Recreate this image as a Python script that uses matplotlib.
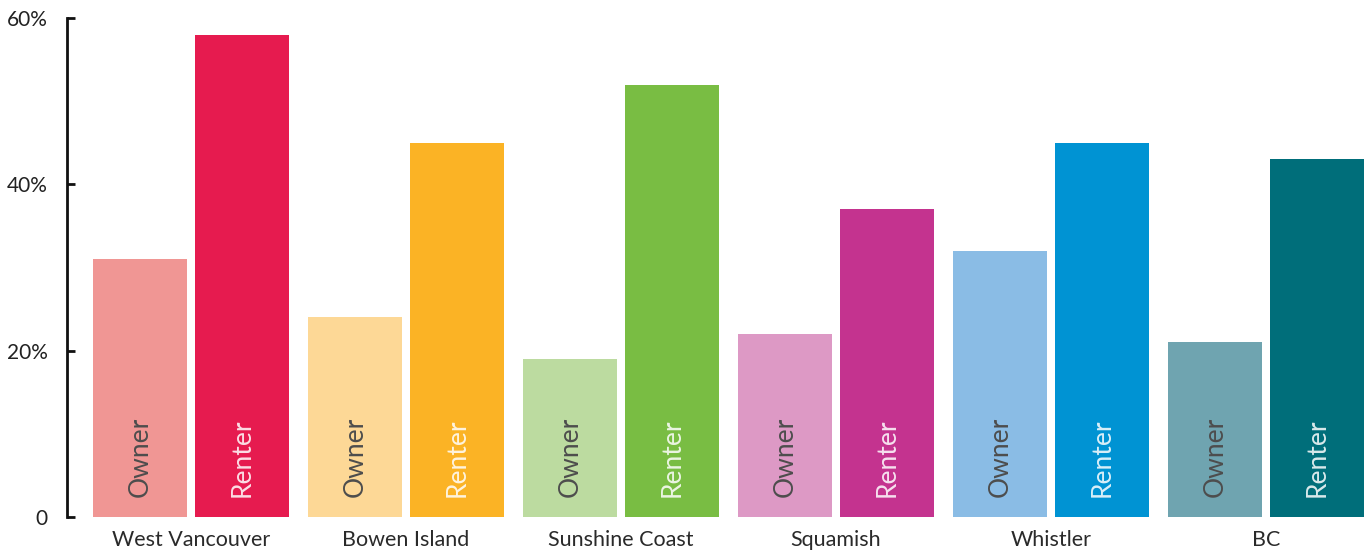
import matplotlib.pyplot as plt
import numpy as np

plt.rcParams['font.family'] = ['Lato', 'DejaVu Sans']

regions = ['West Vancouver', 'Bowen Island', 'Sunshine Coast', 'Squamish', 'Whistler', 'BC']
owner = [31, 24, 19, 22, 32, 21]
renter = [58, 45, 52, 37, 45, 43]
owner_colors = ['#F09694', '#FDD896', '#BCDBA0', '#DD99C5', '#8ABCE5', '#6FA4B0']
renter_colors = ['#E61B4F', '#FBB325', '#79BD43', '#C4338F', '#0093D3', '#006E7A']

fig = plt.figure(figsize=(13.71, 5.52), dpi=100)
ax = fig.add_axes([67 / 1371, 35 / 552, 1 - 67 / 1371, 499 / 552])

x = np.arange(len(regions))
w = 94 / 215
off = 51 / 215
ax.bar(x - off, owner, width=w, color=owner_colors)
ax.bar(x + off, renter, width=w, color=renter_colors)

# labels inside the bars
for i in range(len(regions)):
    ax.text(x[i] - off, 2.4, 'Owner', rotation=90, ha='center', va='bottom',
            fontsize=19, color='#4d4d4d')
    ax.text(x[i] + off, 2.4, 'Renter', rotation=90, ha='center', va='bottom',
            fontsize=19, color='white', alpha=0.85)

ax.set_xlim(-124 / 215, (1371 - 191) / 215)
ax.set_ylim(0, 60)
ax.set_yticks([0, 20, 40, 60])
ax.set_yticklabels(['0', '20%', '40%', '60%'])
ax.set_xticks(x)
ax.set_xticklabels(regions)

for s in ['top', 'right', 'bottom']:
    ax.spines[s].set_visible(False)
ax.spines['left'].set_linewidth(2)
ax.spines['left'].set_color('#111111')
ax.tick_params(axis='y', direction='in', length=6, width=2, pad=14,
               labelsize=15, colors='#111111')
ax.tick_params(axis='y', labelcolor='#222222')
ax.tick_params(axis='x', length=0, pad=9, labelsize=15.5, labelcolor='#2a2a2a')

fig.savefig('out.png', dpi=100)
